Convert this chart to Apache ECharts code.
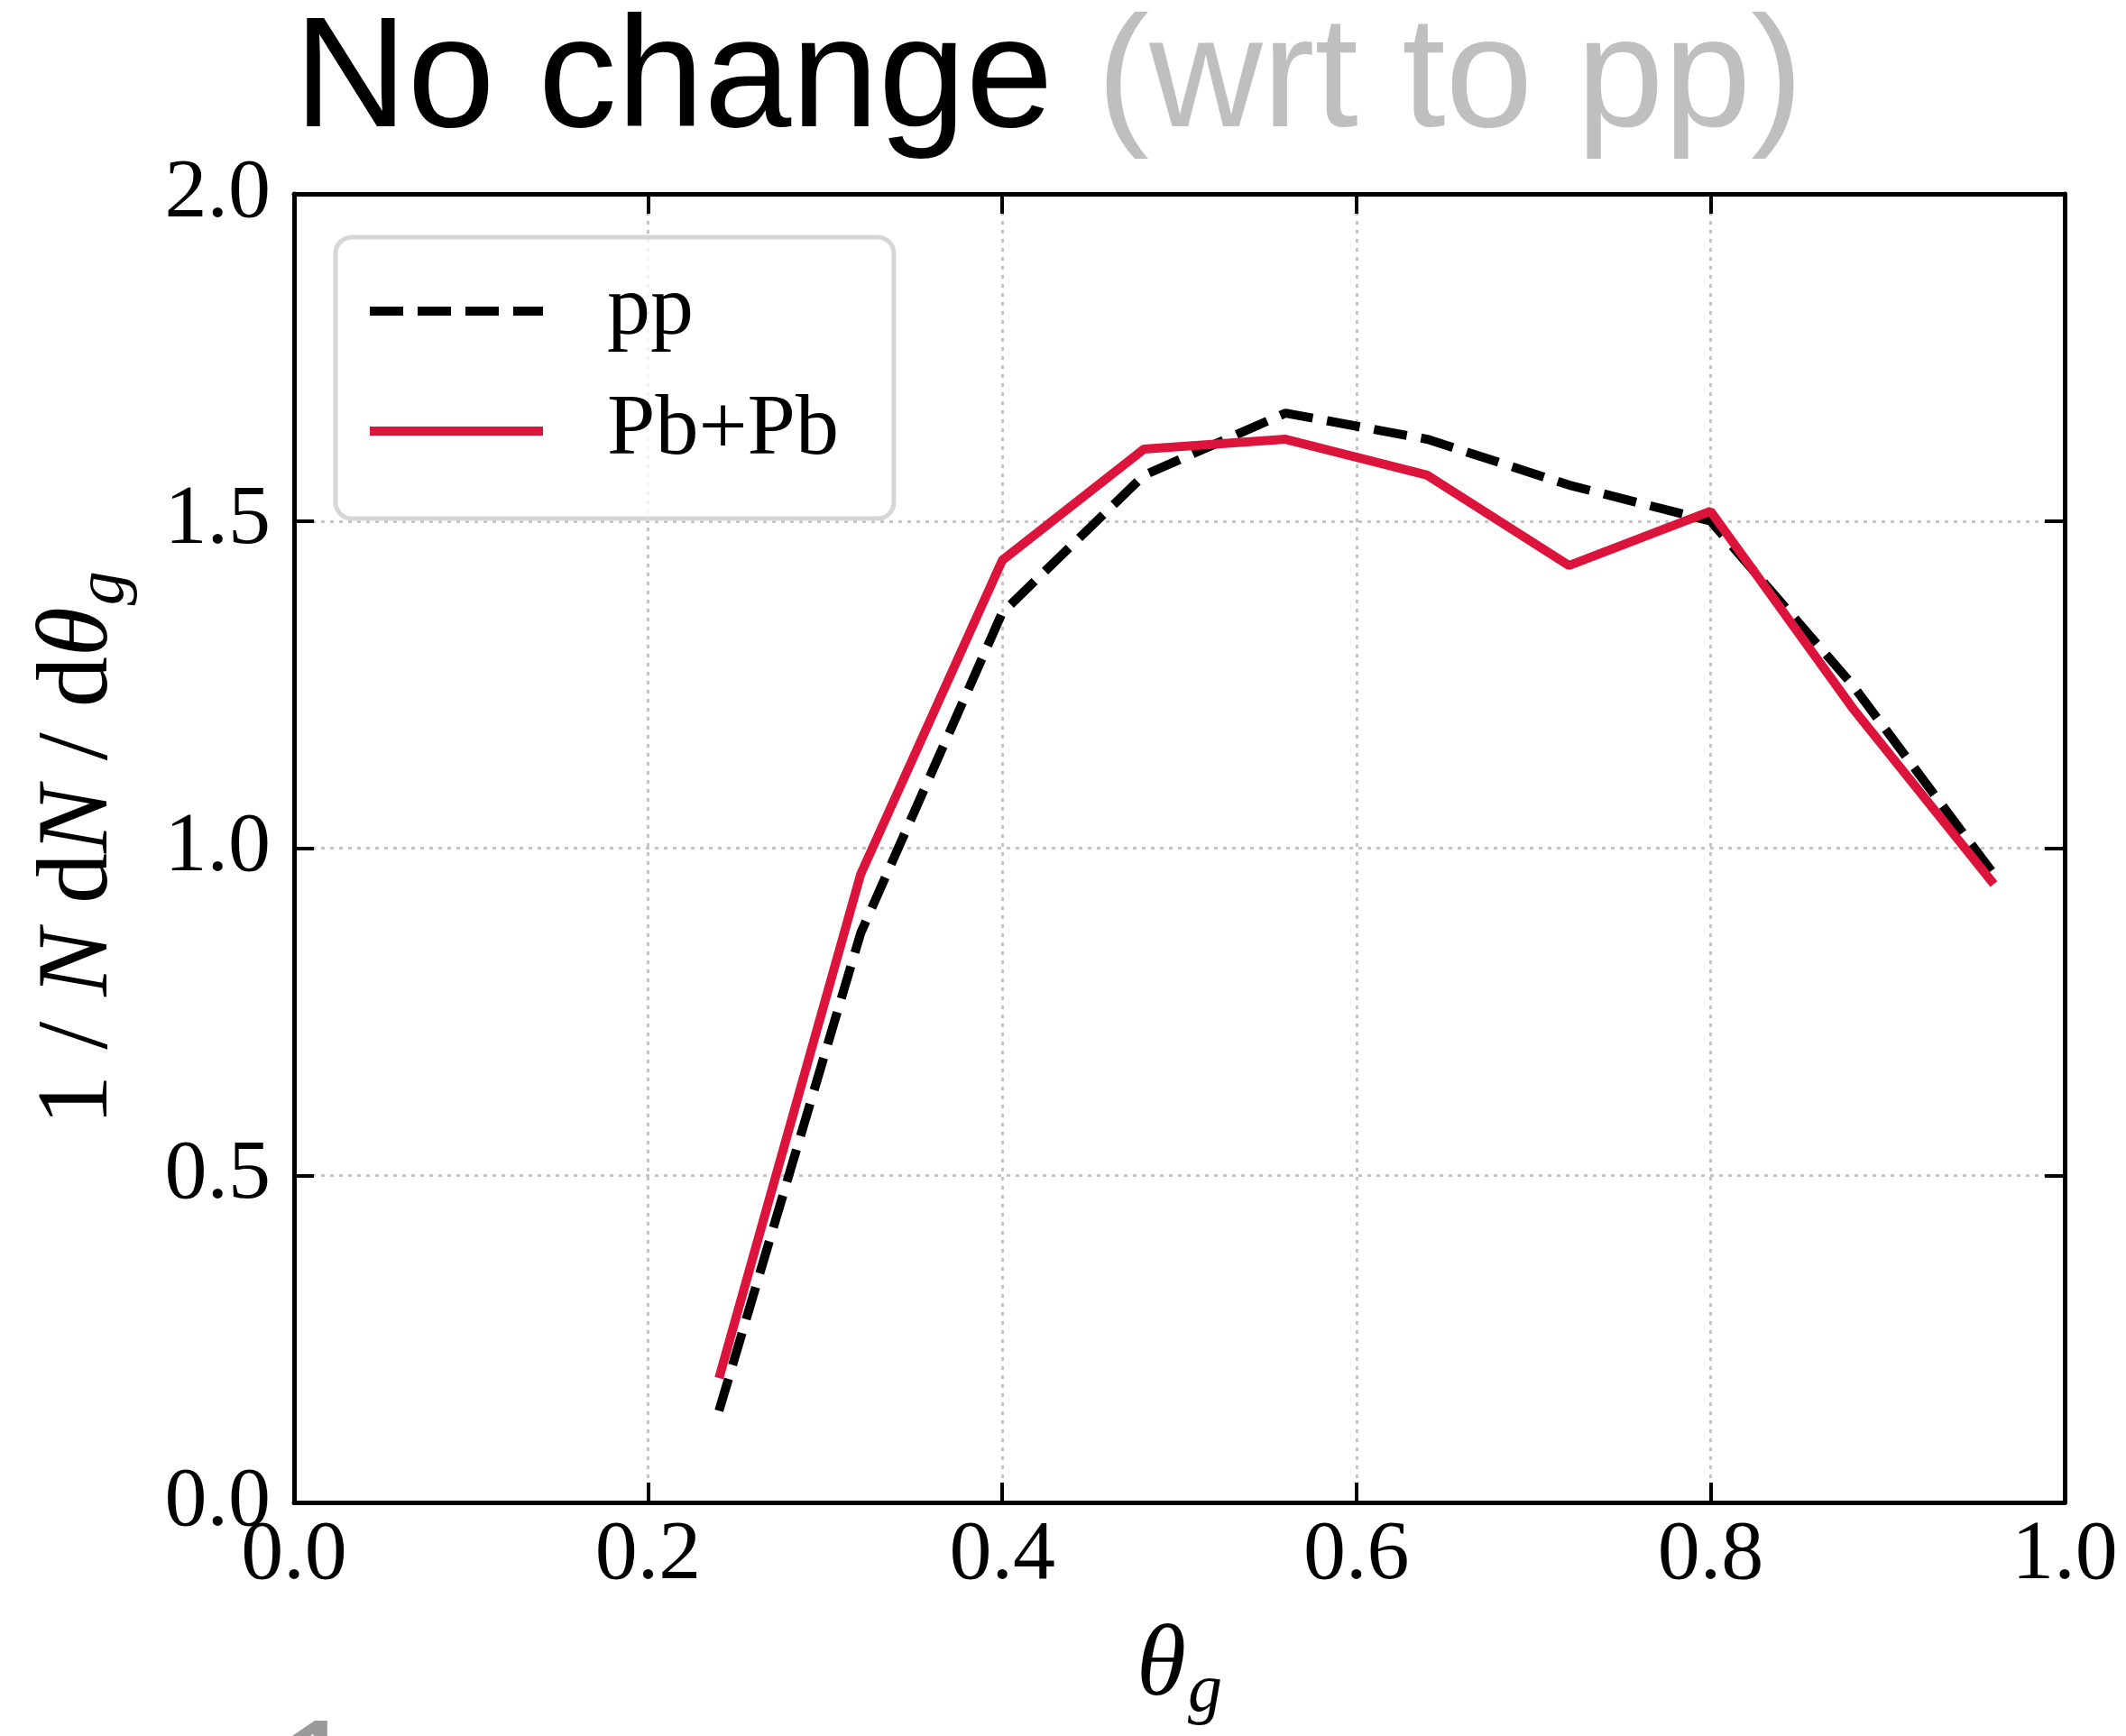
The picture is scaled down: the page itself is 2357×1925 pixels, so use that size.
<!DOCTYPE html>
<html>
<head>
<meta charset="utf-8">
<title>No change (wrt to pp)</title>
<script src="https://cdn.jsdelivr.net/npm/echarts@6/dist/echarts.min.js"></script>
<style>
  html, body { margin: 0; padding: 0; background: #ffffff; }
  #chart { width: 2357px; height: 1925px; }
</style>
</head>
<body>
<div id="chart"></div>
<script>
// Groomed jet opening angle distribution: bin centres and normalised yields
const thetaG = [0.24, 0.32, 0.40, 0.48, 0.56, 0.64, 0.72, 0.80, 0.88, 0.96];
const ppYield = [0.14, 0.87, 1.36, 1.57, 1.665, 1.625, 1.555, 1.50, 1.25, 0.96];
const pbpbYield = [0.19, 0.96, 1.44, 1.61, 1.625, 1.57, 1.432, 1.515, 1.215, 0.945];

const seriesNames = ['pp', 'Pb+Pb'];
const xTicks = { min: 0, max: 1, interval: 0.2 };
const yTicks = { min: 0, max: 2, interval: 0.5 };

const SERIF = "'Liberation Serif', 'DejaVu Serif', serif";
const SANS = "'Liberation Sans', Arial, sans-serif";

const pair = (xs, ys) => xs.map((x, i) => [x, ys[i]]);

const frameLine = { show: true, onZero: false, lineStyle: { color: '#000', width: 5 } };
const innerTicks = { show: true, inside: true, length: 22, lineStyle: { color: '#000', width: 4 } };
const dottedGrid = { show: true, lineStyle: { color: '#c4c4c4', width: 3, type: [4, 6] } };
const tickLabel = (margin) => ({
  show: true, margin: margin, color: '#000', fontFamily: SERIF, fontSize: 94, lineHeight: 94,
  formatter: (v) => v.toFixed(1)
});

// rich text pieces for the axis titles: italic symbols, lowered subscript
const nameRich = {
  r: { fontFamily: SERIF, fontSize: 112, lineHeight: 130, color: '#000' },
  i: { fontFamily: SERIF, fontSize: 112, lineHeight: 130, fontStyle: 'italic', color: '#000' },
  s: { fontFamily: SERIF, fontSize: 76, lineHeight: 74, padding: [56, 0, 0, 2], fontStyle: 'italic',
       color: '#000', verticalAlign: 'bottom' }
};

const chart = echarts.init(document.getElementById('chart'), null, { renderer: 'canvas' });

chart.setOption({
  animation: false,
  backgroundColor: '#ffffff',
  title: {
    left: 326, top: 6, padding: 0,
    text: '{a|No change}{b| (wrt to pp)}',
    textStyle: {
      fontWeight: 'normal',
      rich: {
        a: { fontFamily: SANS, fontSize: 174, lineHeight: 173, fontWeight: 'normal', color: '#000000' },
        b: { fontFamily: SANS, fontSize: 174, lineHeight: 173, fontWeight: 'normal', color: '#bfbfbf' }
      }
    }
  },
  legend: {
    orient: 'vertical',
    left: 372, top: 263,
    padding: [32, 61, 47, 33],
    itemWidth: 192, itemHeight: 20, itemGap: 33,
    backgroundColor: 'rgba(255,255,255,0.8)',
    borderColor: '#d6d6d6', borderWidth: 5, borderRadius: 18,
    lineStyle: { width: 10 },
    itemStyle: { opacity: 0 },
    textStyle: { fontFamily: SERIF, fontSize: 96, lineHeight: 100, color: '#000', padding: [0, 0, 0, 66] },
    data: seriesNames,
    selectedMode: false
  },
  grid: { left: 326, top: 215, width: 1963, height: 1451, containLabel: false, outerBoundsMode: 'none' },
  xAxis: [
    {
      type: 'value', position: 'bottom', ...xTicks,
      axisLine: frameLine, axisTick: innerTicks, axisLabel: tickLabel(12), splitLine: dottedGrid,
      name: '{i|θ}{s|g}', nameLocation: 'middle', nameGap: 119, nameMoveOverlap: false,
      nameTextStyle: { rich: nameRich }
    },
    {
      type: 'value', position: 'top', ...xTicks,
      axisLine: frameLine, axisTick: innerTicks, axisLabel: { show: false }, splitLine: { show: false }
    }
  ],
  yAxis: [
    {
      type: 'value', position: 'left', ...yTicks,
      axisLine: frameLine, axisTick: innerTicks, axisLabel: tickLabel(26), splitLine: dottedGrid,
      name: '{r|1 / }{i|N}{r| d}{i|N}{r| / d}{i|θ}{s|g}', nameLocation: 'middle', nameGap: 172,
      nameMoveOverlap: false, nameTextStyle: { rich: nameRich }
    },
    {
      type: 'value', position: 'right', ...yTicks,
      axisLine: frameLine, axisTick: innerTicks, axisLabel: { show: false }, splitLine: { show: false }
    }
  ],
  series: [
    {
      name: seriesNames[0], type: 'line', xAxisIndex: 0, yAxisIndex: 0,
      data: pair(thetaG, ppYield), symbol: 'none', showSymbol: false, z: 3,
      lineStyle: { color: '#000000', width: 10, type: [37, 16] },
      itemStyle: { color: '#000000' }
    },
    {
      name: seriesNames[1], type: 'line', xAxisIndex: 0, yAxisIndex: 0,
      data: pair(thetaG, pbpbYield), symbol: 'none', showSymbol: false, z: 4,
      lineStyle: { color: '#dc143c', width: 10 },
      itemStyle: { color: '#dc143c' }
    }
  ],
  graphic: [
    {
      // heading of the panel below, only its top edge falls inside the canvas
      type: 'text', x: 304, y: 1979, silent: true,
      style: { text: '1', font: '173px ' + SANS, fill: '#999999', verticalAlign: 'middle', align: 'left' }
    }
  ]
});
</script>
</body>
</html>
